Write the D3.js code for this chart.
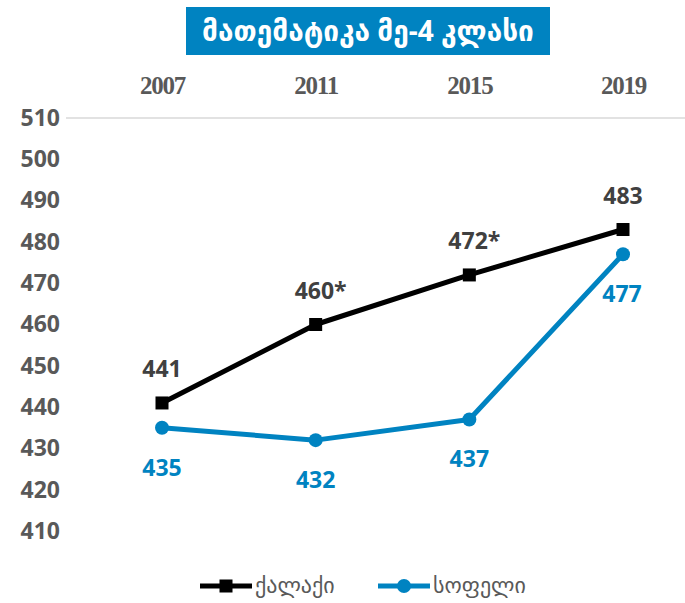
<!DOCTYPE html>
<html>
<head>
<meta charset="utf-8">
<script src="https://cdn.jsdelivr.net/npm/d3@7"></script>
<style>
  body { margin: 0; background: #fff; }
  svg { display: block; }
</style>
</head>
<body>
<svg id="chart" width="685" height="603"></svg>
<script>
// data
const years = ["2007", "2011", "2015", "2019"];
const cityValues = [441, 460, 472, 483];
const cityLabels = ["441", "460*", "472*", "483"];
const villageValues = [435, 432, 437, 477];
const villageLabels = ["435", "432", "437", "477"];
const yTicks = [410, 420, 430, 440, 450, 460, 470, 480, 490, 500, 510];
const seriesNames = ["ქალაქი", "სოფელი"];
const titleText = "მათემატიკა მე-4 კლასი";

const black = "#000000";
const blue = "#0083C1";
const grey = "#595959";
const geo = "'Noto Sans', 'DejaVu Sans', sans-serif";

const svg = d3.select("#chart");

// x positions: point scale over the years
const x = d3.scalePoint()
  .domain(years)
  .range([162, 623]);

const y = d3.scaleLinear()
  .domain([410, 510])
  .range([531, 118]);

// title box
const title = svg.append("g");
title.append("rect")
  .attr("x", 186).attr("y", 7)
  .attr("width", 364).attr("height", 48)
  .attr("fill", blue);
title.append("text")
  .attr("x", 368).attr("y", 41)
  .attr("text-anchor", "middle")
  .attr("fill", "#fff")
  .style("font-family", geo)
  .style("font-weight", "bold")
  .style("font-size", "28px")
  .text(titleText);

// top gridline (only the 510 one is drawn)
svg.append("line")
  .attr("x1", 66).attr("x2", 685)
  .attr("y1", y(510)).attr("y2", y(510))
  .attr("stroke", "#d9d9d9")
  .attr("stroke-width", 1.5);

// y axis labels
const yAxis = svg.append("g")
  .attr("transform", "translate(60,0)")
  .call(d3.axisLeft(y).tickValues(yTicks).tickSize(0).tickPadding(0));
yAxis.select(".domain").remove();
yAxis.selectAll("text")
  .attr("fill", grey)
  .style("font-family", "'Open Sans', sans-serif")
  .style("font-weight", "bold")
  .style("font-size", "23px");

// x axis labels on top
const xAxis = svg.append("g")
  .attr("transform", "translate(0,94)")
  .call(d3.axisTop(x).tickSize(0).tickPadding(0));
xAxis.select(".domain").remove();
xAxis.selectAll("text")
  .attr("fill", grey)
  .attr("dy", 0)
  .style("font-family", "'Liberation Serif', serif")
  .style("font-weight", "bold")
  .style("font-size", "25px")
  .style("letter-spacing", "-1.2px");

const line = d3.line()
  .x(d => x(d.year))
  .y(d => y(d.value));

const cityData = years.map((yr, i) => ({ year: yr, value: cityValues[i], label: cityLabels[i] }));
const villageData = years.map((yr, i) => ({ year: yr, value: villageValues[i], label: villageLabels[i] }));

// village (blue) line
svg.append("path")
  .datum(villageData)
  .attr("d", line)
  .attr("fill", "none")
  .attr("stroke", blue)
  .attr("stroke-width", 5)
  .attr("stroke-linejoin", "round");
svg.selectAll("circle.village")
  .data(villageData)
  .enter()
  .append("circle")
    .attr("class", "village")
    .attr("cx", d => x(d.year))
    .attr("cy", d => y(d.value))
    .attr("r", 7)
    .attr("fill", blue);

// city (black) line
svg.append("path")
  .datum(cityData)
  .attr("d", line)
  .attr("fill", "none")
  .attr("stroke", black)
  .attr("stroke-width", 5)
  .attr("stroke-linejoin", "round");
svg.selectAll("rect.city")
  .data(cityData)
  .enter()
  .append("rect")
    .attr("class", "city")
    .attr("x", d => x(d.year) - 6.5)
    .attr("y", d => y(d.value) - 6.5)
    .attr("width", 13)
    .attr("height", 13)
    .attr("fill", black);

// value labels
svg.selectAll("text.cityLabel")
  .data(cityData)
  .enter()
  .append("text")
    .attr("class", "cityLabel")
    .attr("x", d => x(d.year) + (d.label.endsWith("*") ? 5 : 0))
    .attr("y", d => y(d.value) - 26)
    .attr("text-anchor", "middle")
    .attr("fill", "#404040")
    .style("font-family", "'Open Sans', sans-serif")
    .style("font-weight", "bold")
    .style("font-size", "23px")
    .text(d => d.label);

svg.selectAll("text.villageLabel")
  .data(villageData)
  .enter()
  .append("text")
    .attr("class", "villageLabel")
    .attr("x", (d, i) => i === 3 ? x(d.year) - 1 : x(d.year))
    .attr("y", d => y(d.value) + 48)
    .attr("text-anchor", "middle")
    .attr("fill", blue)
    .style("font-family", "'Open Sans', sans-serif")
    .style("font-weight", "bold")
    .style("font-size", "23px")
    .text(d => d.label);

// legend
const legend = svg.append("g");
const legendItems = [
  { name: seriesNames[0], color: black, shape: "square", x0: 200 },
  { name: seriesNames[1], color: blue, shape: "circle", x0: 378 }
];
legendItems.forEach(it => {
  const g = legend.append("g").attr("transform", `translate(${it.x0},586)`);
  g.append("line")
    .attr("x1", 0).attr("x2", 52)
    .attr("stroke", it.color)
    .attr("stroke-width", 5);
  if (it.shape === "square") {
    g.append("rect").attr("x", 19.5).attr("y", -6.5).attr("width", 13).attr("height", 13).attr("fill", it.color);
  } else {
    g.append("circle").attr("cx", 26).attr("r", 7).attr("fill", it.color);
  }
  g.append("text")
    .attr("x", 55).attr("y", 7)
    .attr("fill", grey)
    .style("font-family", geo)
    .style("font-size", "22px")
    .text(it.name);
});
</script>
</body>
</html>
